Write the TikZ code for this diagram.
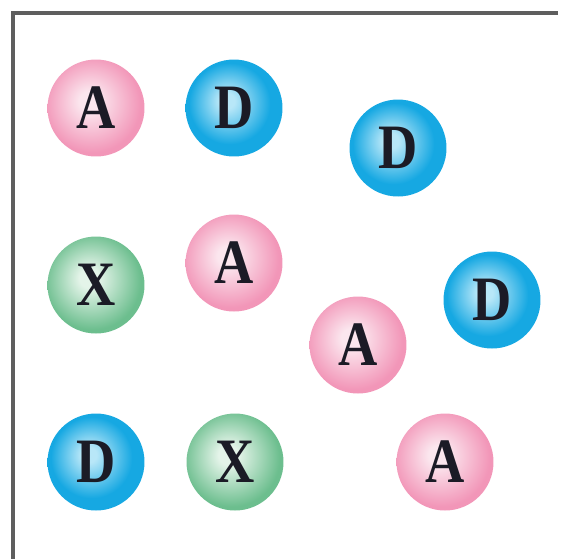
\documentclass[tikz,border=0pt]{standalone}
\usepackage{fontspec}
\newfontfamily\atomfont{Liberation Serif}[FakeStretch=0.86]
\usepackage{xcolor}
\definecolor{pinkhi}{HTML}{FBE6EE}
\definecolor{pinkedge}{HTML}{F296B8}
\definecolor{bluehi}{HTML}{B8E7F8}
\definecolor{blueedge}{HTML}{16A8E2}
\definecolor{greenhi}{HTML}{E4F4E9}
\definecolor{greenedge}{HTML}{6CBE8E}
\definecolor{frame}{HTML}{5E5E5E}
\definecolor{ink}{HTML}{1B1B26}
\pgfdeclareradialshading{pinkball}{\pgfpoint{-4bp}{4bp}}{color(0bp)=(pinkhi); color(5bp)=(pinkhi); color(25bp)=(pinkedge); color(50bp)=(pinkedge)}
\pgfdeclareradialshading{blueball}{\pgfpoint{-4bp}{4bp}}{color(0bp)=(bluehi); color(4bp)=(bluehi); color(21bp)=(blueedge); color(50bp)=(blueedge)}
\pgfdeclareradialshading{greenball}{\pgfpoint{-4bp}{4bp}}{color(0bp)=(greenhi); color(5bp)=(greenhi); color(25bp)=(greenedge); color(50bp)=(greenedge)}
\tikzset{
  atom/.style={circle, minimum size=1.94cm, inner sep=0pt, text=ink,
    font=\atomfont\fontsize{36}{40}\selectfont\bfseries},
  atomA/.style={atom, shading=pinkball},
  atomD/.style={atom, shading=blueball},
  atomX/.style={atom, shading=greenball}
}
\begin{document}
\begin{tikzpicture}[x=0.02cm, y=-0.02cm]
  \useasboundingbox (0,0) rectangle (561,559);
  \draw[frame, line width=2pt] (558,13) -- (13,13) -- (13,559);

  % top row
  \node[atomA] (a1) at (96,108) {A};
  \node[atomD] (d1) at (234,108) {D};
  \node[atomD] (d2) at (398,148) {D};

  % middle row
  \node[atomX] (x1) at (96,285) {X};
  \node[atomA] (a2) at (234,263) {A};
  \node[atomA] (a3) at (358,345) {A};
  \node[atomD] (d3) at (492,300) {D};

  % bottom row
  \node[atomD] (d4) at (96,462) {D};
  \node[atomX] (x2) at (235,462) {X};
  \node[atomA] (a4) at (445,462) {A};
\end{tikzpicture}
\end{document}
